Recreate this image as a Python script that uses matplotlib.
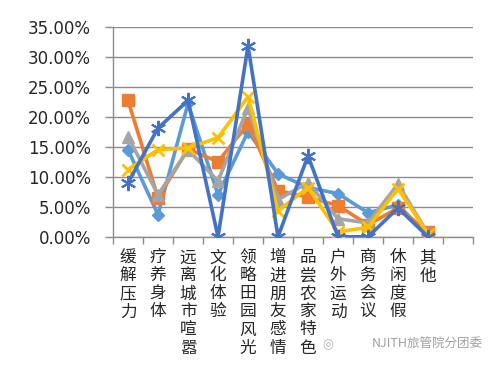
import matplotlib
matplotlib.use("Agg")
import matplotlib.pyplot as plt
import numpy as np

plt.rcParams['font.family'] = ['Noto Sans CJK SC', 'DejaVu Sans']

categories = ["缓解压力", "疗养身体", "远离城市喧嚣", "文化体验", "领略田园风光",
              "增进朋友感情", "品尝农家特色", "户外运动", "商务会议", "休闲度假", "其他"]
n_slots = 12

s1 = [14.5, 3.7, 22.2, 7.0, 17.5, 10.5, 8.2, 7.2, 4.0, 5.3, 0.3]   # light blue, diamond
s2 = [22.7, 6.5, 14.6, 12.5, 18.8, 7.7, 6.6, 5.2, 2.0, 4.8, 0.8]   # orange, square
s3 = [16.7, 7.0, 14.5, 9.3, 21.5, 6.2, 9.0, 3.0, 2.3, 8.8, 0.5]    # gray, triangle
s4 = [11.2, 14.5, 14.8, 16.5, 23.3, 4.3, 8.2, 0.8, 1.6, 8.0, 0.5]  # yellow, x
s5 = [9.0, 18.1, 22.7, 0.0, 31.8, 0.0, 13.5, 0.0, 0.0, 4.8, 0.0]   # dark blue, asterisk

yticks = [0, 5, 10, 15, 20, 25, 30, 35]

fig = plt.figure(figsize=(5, 3.7), dpi=100)
ax = fig.add_axes([0.226, 0.360, 0.720, 0.568])

x = np.arange(len(categories))
styles = [
    (s1, '#5B9BD5', 'D', 6.5, 1.0),
    (s2, '#ED7D31', 's', 8, 1.0),
    (s3, '#A5A5A5', '^', 8, 1.0),
    (s4, '#FFC000', 'x', 8, 2.0),
    (s5, '#4472C4', (6, 2, 0), 11, 1.5),
]
for vals, col, mk, ms, mew in styles:
    ax.plot(x, vals, color=col, lw=2.6, marker=mk, ms=ms, mec=col, mfc=col,
            mew=mew, zorder=3, solid_joinstyle='round')

ax.set_ylim(0, 35)
ax.set_xlim(-0.5, n_slots - 0.5)
ax.set_yticks(yticks)
ax.set_yticklabels([f"{v:.2f}%" for v in yticks], fontsize=12, color='#262626',
                   family='DejaVu Sans')
ax.yaxis.grid(True, color='#8c8c8c', lw=1.0)
ax.set_axisbelow(True)

ax.set_xticks(x)
ax.set_xticklabels(["\n".join(c) for c in categories], fontsize=12,
                   color='#262626', linespacing=1.08, va='top')
ax.tick_params(axis='x', length=0, pad=9)
ax.set_xticks(np.arange(-0.5, n_slots, 1.0), minor=True)
ax.tick_params(axis='x', which='minor', length=5, color='#8c8c8c', width=1)
ax.tick_params(axis='y', length=6, color='#8c8c8c', width=1, pad=10)

for sp in ['top', 'right']:
    ax.spines[sp].set_visible(False)
for sp in ['left', 'bottom']:
    ax.spines[sp].set_color('#8c8c8c')
    ax.spines[sp].set_linewidth(1.0)

fig.text(0.965, 0.068, "NJITH旅管院分团委", ha='right', va='center',
         fontsize=9, color='#a0a0a0')
fig.text(0.655, 0.068, "◎", ha='center', va='center', fontsize=9,
         color='#b0b0b0', family='DejaVu Sans')

fig.savefig("out.png", dpi=100)
